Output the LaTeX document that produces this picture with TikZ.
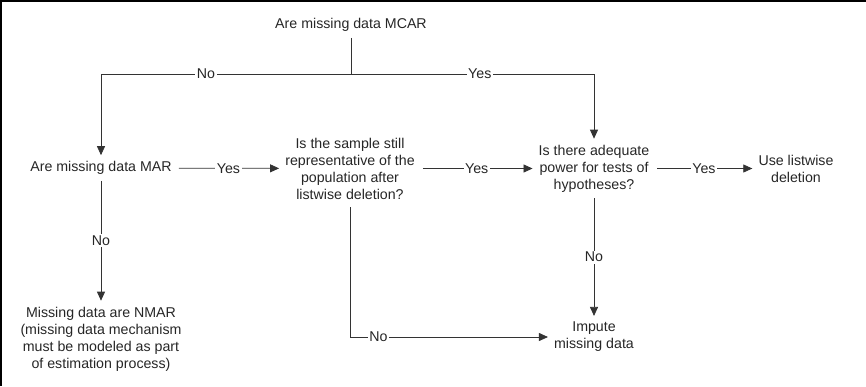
\documentclass[tikz,border=0pt]{standalone}
\usepackage{fontspec}
\setmainfont{Liberation Sans}
\usetikzlibrary{positioning,calc,arrows.meta}
\begin{document}
\begin{tikzpicture}[x=1pt,y=1pt]
                    \tikzstyle{every node}=[align=center,inner sep=0,text=black!85,font=\fontsize{14.2}{17}\selectfont]
                    \tikzstyle{answer}=[fill=white,inner sep=1.5]
                    \tikzstyle{flow}=[-{Triangle[length=9,width=8]},shorten >=6]
                    \useasboundingbox (0,0) rectangle (866,-386);
                    \draw[line width=1.6] (1,-386) |- (866,-1);
                    {
                        \node (mcar) at (351,-25) {Are missing data MCAR};
                        \coordinate (split) at (351,-74);
                        \node (mar) at (101,-168) {Are missing data MAR};
                        \node (sample) at (350,-168.5) {Is the sample still\\representative of the\\population after\\listwise deletion?};
                        \node (power) at (594,-168.5) {Is there adequate\\power for tests of\\hypotheses?};
                        \node (use) at (796,-168.5) {Use listwise\\deletion};
                        \node (nmar) at (101,-339) {Missing data are NMAR\\(missing data mechanism\\must be modeled as part\\of estimation process)};
                        \node (impute) at (594,-337) {Impute\\missing data};

                        \path[draw=black!80,line width=0.8]
                            [shorten <=6] (mcar.south) -- (split);
                        \path[draw=black!80,line width=0.8,flow]
                            (split) -| node[answer,pos=0.29] {No} (mar.north);
                        \path[draw=black!80,line width=0.8,flow]
                            (split) -| node[answer,pos=0.265] {Yes} (power.north);
                        \path[draw=black!80,line width=0.8,flow,shorten <=7]
                            (mar) -- node[answer] {Yes} (sample);
                        \path[draw=black!80,line width=0.8,flow,shorten <=8]
                            (sample) -- node[answer] {Yes} (power);
                        \path[draw=black!80,line width=0.8,flow,shorten <=8]
                            (power) -- node[answer] {Yes} (use);
                        \path[draw=black!80,line width=0.8,flow,shorten <=6]
                            (mar) -- node[answer] {No} (nmar);
                        \path[draw=black!80,line width=0.8,flow,shorten <=6]
                            (power) -- node[answer] {No} (impute);
                        \path[draw=black!80,line width=0.8,flow,shorten <=8]
                            (sample.south) |- node[answer,pos=0.57] {No} (impute.west);
                    }
\end{tikzpicture}
\end{document}
